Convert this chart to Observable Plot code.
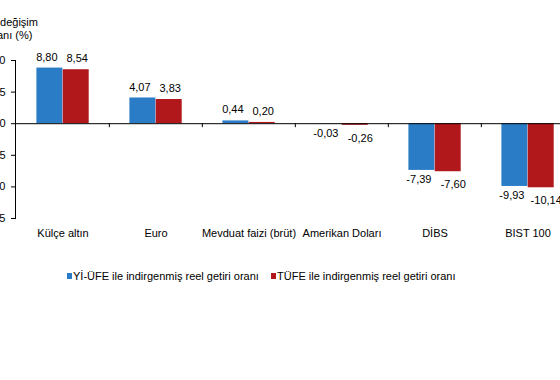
<!DOCTYPE html>
<html>
<head>
<meta charset="utf-8">
<script src="https://cdn.jsdelivr.net/npm/d3@7"></script>
<script src="https://cdn.jsdelivr.net/npm/@observablehq/plot@0.6"></script>
<style>
  html, body { margin: 0; padding: 0; background: #fff; }
  #page { position: relative; width: 560px; height: 380px; overflow: hidden; background: #fff;
          font-family: "Liberation Sans", Arial, sans-serif; color: #000; }
  #chart { position: absolute; left: -25px; top: 0; width: 605px; }
  #chart svg { max-width: none !important; }
  #title { position: absolute; left: -12.8px; top: 16.4px; font-size: 11px; line-height: 12.5px; white-space: nowrap; }
  .leg { position: absolute; top: 269px; font-size: 11px; line-height: 14px; white-space: nowrap; display: flex; align-items: center; }
  .sw { width: 5px; height: 6px; margin-right: 1px; display: inline-block; }
</style>
</head>
<body>
<div id="page">
  <div id="title">% değişim<br>oranı (%)</div>
  <div id="chart"></div>
</div>
<script>
const categories = ["Külçe altın", "Euro", "Mevduat faizi (brüt)", "Amerikan Doları", "DİBS", "BIST 100"];
const seriesNames = ["Yİ-ÜFE ile indirgenmiş reel getiri oranı", "TÜFE ile indirgenmiş reel getiri oranı"];
const yiUfeValues = [8.80, 4.07, 0.44, -0.03, -7.39, -9.93];
const tufeValues = [8.54, 3.83, 0.20, -0.26, -7.60, -10.14];
const yTicks = [-15, -10, -5, 0, 5, 10];
const seriesColors = ["#2b7cc6", "#b0181b"];

const blue = categories.map((c, i) => ({cat: c, v: yiUfeValues[i]}));
const red = categories.map((c, i) => ({cat: c, v: tufeValues[i]}));
const fmt = v => d3.format(".2f")(v).replace("−", "-").replace(".", ",");

const W = 605, mL = 40, mR = 4.9;
const step = (W - mL - mR) / categories.length;
const barW = step * 0.282;
const gap = step * 0.2185;

const plot = Plot.plot({
  width: W,
  height: 248,
  marginLeft: mL,
  marginRight: mR,
  marginTop: 60,
  marginBottom: 30,
  style: {fontFamily: "'Liberation Sans', Arial, sans-serif", fontSize: "11px", color: "#000", background: "transparent", overflow: "visible", maxWidth: "none"},
  x: {domain: categories, padding: 0, tickSize: 0, tickPadding: 11, label: null},
  y: {domain: [-15, 10], ticks: yTicks, tickSize: 4, tickPadding: 6, tickFormat: d => String(d), label: null, line: true},
  marks: [
    Plot.barY(blue, {x: "cat", y: "v", fill: seriesColors[0], insetLeft: gap, insetRight: step - gap - barW}),
    Plot.barY(red, {x: "cat", y: "v", fill: seriesColors[1], insetLeft: gap + barW, insetRight: step - gap - 2 * barW}),
    Plot.ruleY([0], {stroke: "#000"}),
    Plot.ruleX(categories.slice(1), {x: d => d, y1: 0, y2: 0, insetBottom: -4, dx: -step / 2, stroke: "#000"}),
    Plot.text(blue.filter(d => d.v >= 0), {x: "cat", y: "v", text: d => fmt(d.v), dx: -(step / 2 - gap - barW / 2) - 3, dy: -11, fill: "#000"}),
    Plot.text(red.filter(d => d.v >= 0), {x: "cat", y: "v", text: d => fmt(d.v), dx: (gap + 1.5 * barW - step / 2) + 1, dy: -11, fill: "#000"}),
    Plot.text(blue.filter(d => d.v < 0), {x: "cat", y: "v", text: d => fmt(d.v), dx: -(step / 2 - gap - barW / 2) - 3, dy: 9.5, fill: "#000"}),
    Plot.text(red.filter(d => d.v < 0), {x: "cat", y: "v", text: d => fmt(d.v), dx: (gap + 1.5 * barW - step / 2) + 5, dy: 13, fill: "#000"})
  ]
});
document.getElementById("chart").appendChild(plot);

const legendLeft = [67, 271];
seriesNames.forEach((name, i) => {
  const item = document.createElement("div");
  item.className = "leg";
  item.style.left = legendLeft[i] + "px";
  const sw = document.createElement("span");
  sw.className = "sw";
  sw.style.background = seriesColors[i];
  item.appendChild(sw);
  const t = document.createElement("span");
  t.textContent = name;
  item.appendChild(t);
  document.getElementById("page").appendChild(item);
});
</script>
</body>
</html>
